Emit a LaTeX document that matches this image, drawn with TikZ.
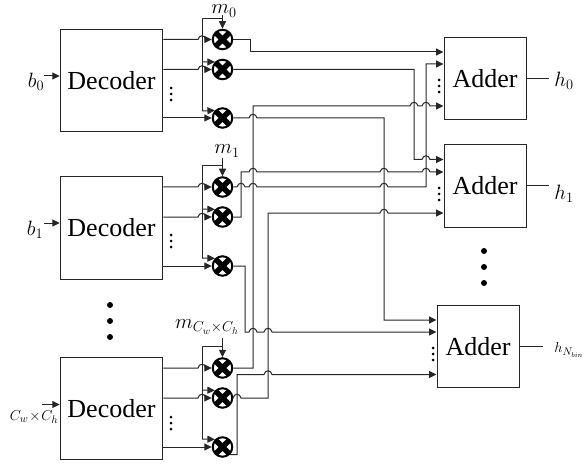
\documentclass[tikz,border=0pt]{standalone}
\usepackage{amsmath, amssymb}
\usepackage{fontspec}
\setmainfont{Liberation Serif}
\usetikzlibrary{positioning,arrows.meta}
\tikzset{
	block/.style={draw=black!85, line width=1pt, inner sep=0pt, font=\fontsize{26}{30}\selectfont},
	decoderbox/.style={block, minimum width=102.5pt, minimum height=102.5pt},
	adderbox/.style={block, minimum width=82pt, minimum height=82.5pt},
	mixer/.style={circle, draw=black, fill=white, line width=2pt, minimum size=19.5pt, inner sep=0pt,
		path picture={\draw[line width=5.4pt] (path picture bounding box.north west) -- (path picture bounding box.south east)
			(path picture bounding box.north east) -- (path picture bounding box.south west);}},
	wire/.style={draw=black!85, line width=1pt},
	sig/.style={wire, -{Triangle[length=7.5pt,width=7pt]}},
	bigdot/.style={circle, fill=black, inner sep=0pt, minimum size=6pt},
	smalldot/.style={circle, fill=black, inner sep=0pt, minimum size=3pt},
	lab/.style={inner sep=0pt, font=\fontsize{20}{24}\selectfont},
}
\newcommand{\hop}[2]{-- (#1-4,#2) .. controls (#1-3,#2-5) and (#1+3,#2-5) .. (#1+4,#2)}
\begin{document}
\begin{tikzpicture}[x=1pt,y=-1pt]
	\useasboundingbox (0,0) rectangle (584,468);
	
	% decoders
	\node[decoderbox] (dec0) at (111.5,80.5) {Decoder};
	\node[decoderbox] (dec1) at (111.5,228) {Decoder};
	\node[decoderbox] (dec2) at (111.5,408.5) {Decoder};
	
	% adders
	\node[adderbox] (add0) at (485,78.5) {Adder};
	\node[adderbox] (add1) at (485,186) {Adder};
	\node[adderbox] (add2) at (478,346.5) {Adder};
	
	% mixers
	\node[mixer] (m00) at (222.5,39.5) {};
	\node[mixer] (m01) at (222.5,69.5) {};
	\node[mixer] (m02) at (222.5,118) {};
	\node[mixer] (m10) at (222.5,187) {};
	\node[mixer] (m11) at (222.5,217) {};
	\node[mixer] (m12) at (222.5,266) {};
	\node[mixer] (m20) at (222.5,368) {};
	\node[mixer] (m21) at (222.5,398) {};
	\node[mixer] (m22) at (222.5,447) {};
	
	% labels
	\node[lab] (b0) at (36,82) {$b_0$};
	\node[lab] (b1) at (35,230) {$b_1$};
	\node[lab, font=\fontsize{15}{18}\selectfont] (bc) at (34,417) {$C_w\!\times\! C_h$};
	\node[lab] (c0) at (224,11) {$m_0$};
	\node[lab] (c1) at (227,151) {$m_1$};
	\node[lab] (c2) at (207,327) {$m_{C_w\times C_h}$};
	\node[lab] (h0) at (564,81) {$h_0$};
	\node[lab] (h1) at (564,194) {$h_1$};
	\node[lab, font=\fontsize{15}{18}\selectfont] (h2) at (569,350) {$h_{N_{bin}}$};
	
	% inputs
	\coordinate (in0) at (44,76);
	\coordinate (in1) at (44,223);
	\coordinate (in2) at (42,404.5);
	\draw[sig] (in0) -- (in0 -| dec0.west);
	\draw[sig] (in1) -- (in1 -| dec1.west);
	\draw[sig] (in2) -- (in2 -| dec2.west);
	
	% outputs
	\coordinate (o0) at (549,78.5);
	\coordinate (o1) at (549,186);
	\coordinate (o2) at (543,346.5);
	\draw[wire] (add0.east) -- (o0);
	\draw[wire] (add1.east) -- (o1);
	\draw[wire] (add2.east) -- (o2);
	
	% carrier bus
	\coordinate (t0) at (222.5,15);
	\coordinate (t1) at (222.5,158);
	\coordinate (t2) at (222.5,338);
	\draw[sig] (t0) -- (m00.north);
	\draw[sig] (t1) -- (m10.north);
	\draw[sig] (t2) -- (m20.north);
	\draw[wire] (222.5,18.5) -- (202,18.5) -- (202,111);
	\draw[wire] (222.5,165.5) -- (202,165.5) -- (202,258);
	\draw[wire] (222.5,346.5) -- (202,346.5) -- (202,439);
	\foreach \y/\name in {62/m01,111/m02,209/m11,258/m12,390/m21,439/m22}{
		\draw[sig] (202,\y) -- (\name.north west);
	}
	
	% decoder to mixer
	\draw[sig] (dec0.east |- m00) \hop{202}{39.5} -- (m00.west);
	\draw[sig] (dec0.east |- m01) \hop{202}{69.5} -- (m01.west);
	\draw[sig] (dec0.east |- m02) -- (m02.west);
	\draw[sig] (dec1.east |- m10) \hop{202}{187} -- (m10.west);
	\draw[sig] (dec1.east |- m11) \hop{202}{217} -- (m11.west);
	\draw[sig] (dec1.east |- m12) -- (m12.west);
	\draw[sig] (dec2.east |- m20) \hop{202}{368} -- (m20.west);
	\draw[sig] (dec2.east |- m21) \hop{202}{398} -- (m21.west);
	\draw[sig] (dec2.east |- m22) -- (m22.west);
	
	% mixer to adder
	\draw[sig] (m00.east) -- (250,39.5) -- (250,52) -- (add0.west |- 0,52);
	\draw[sig] (m20.east) -- (253,368) -- (253,106) \hop{414}{106} \hop{426}{106} -- (add0.west |- 0,106);
	\draw[sig] (m01.east) -- (414,69.5) -- (414,159.5) \hop{426}{159.5} -- (add1.west |- 0,159.5);
	\draw[sig] (m10.east) \hop{241}{187} \hop{253}{187} \hop{384}{187} -- (426,187) -- (426,64) -- (add0.west |- 0,64);
	\draw[sig] (m11.east) -- (241,217) -- (241,172) \hop{253}{172} \hop{384}{172} \hop{426}{172} -- (add1.west |- 0,172);
	\draw[sig] (m21.east) \hop{237}{398} -- (268,398) -- (268,213) \hop{384}{213} -- (add1.west |- 0,213);
	\draw[sig] (m02.east) \hop{253}{118} -- (384,118) -- (384,320) -- (add2.west |- 0,320);
	\draw[sig] (m12.east) -- (245,266) -- (245,332) \hop{253}{332} \hop{268}{332} -- (add2.west |- 0,332);
	\draw[sig] (m22.south east) -- (237,0 |- m22.south east) -- (237,374.5) \hop{268}{374.5} -- (add2.west |- 0,374.5);
	
	% dots
	\foreach \x/\y in {171/88,171/235,171/417,439/80,439/188,433/348}{
		\node[smalldot] (sd\x\y a) at (\x,\y) {};
		\node[smalldot] (sd\x\y b) at (\x,\y+6) {};
		\node[smalldot] (sd\x\y c) at (\x,\y+12) {};
	}
	\foreach \x/\y in {110/305,484/251}{
		\node[bigdot] (bd\x a) at (\x,\y) {};
		\node[bigdot] (bd\x b) at (\x,\y+16) {};
		\node[bigdot] (bd\x c) at (\x,\y+32) {};
	}
\end{tikzpicture}
\end{document}
